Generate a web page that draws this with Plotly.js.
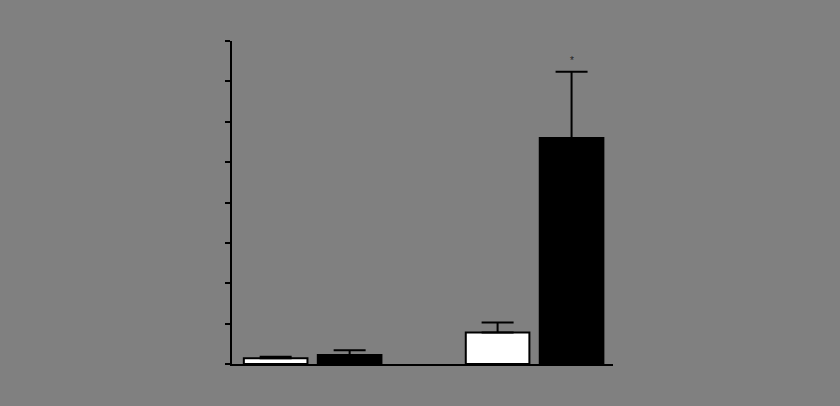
<!DOCTYPE html>
<html>
<head>
<meta charset="utf-8">
<script src="https://cdn.plot.ly/plotly-3.0.1.min.js"></script>
<style>
  html, body { margin: 0; padding: 0; background: #808080; }
  #fig { width: 840px; height: 406px; }
</style>
</head>
<body>
<div id="fig"></div>
<script>
// groups (no labels survive in the original)
var groups = ['A', 'B', 'C', 'D'];
var slots = ['A', 'B', 'gap', 'C', 'D'];   // empty slot between pairs
var means = [0.14, 0.22, 0.78, 5.6];
var sem = [0.04, 0.12, 0.25, 1.64];
var fills = ['white', 'black', 'white', 'black'];
var marks = ['', '', '', '*'];

var series = [{
  x: groups,
  y: means,
  type: 'bar',
  width: 0.86,
  marker: { color: fills, line: { color: 'black', width: 2 } },
  error_y: {
    type: 'data',
    symmetric: false,
    array: sem,
    arrayminus: [0, 0, 0, 0],
    color: 'black',
    thickness: 2,
    width: 16
  },
  hoverinfo: 'none'
}];

var notes = [];
for (var i = 0; i < groups.length; i++) {
  if (marks[i] === '') continue;
  notes.push({
    x: groups[i], y: means[i] + sem[i],
    text: marks[i], showarrow: false,
    yanchor: 'bottom', yshift: 4,
    font: { family: 'Liberation Sans, Arial', size: 10, color: '#222' }
  });
}

var layout = {
  width: 840, height: 406,
  margin: { l: 232, r: 227, t: 41, b: 42 },
  paper_bgcolor: '#808080',
  plot_bgcolor: 'rgba(0,0,0,0)',
  showlegend: false,
  xaxis: {
    type: 'category',
    categoryorder: 'array',
    categoryarray: slots,
    range: [-0.59, 4.56],
    showline: true, linecolor: 'black', linewidth: 2,
    showgrid: false, zeroline: false,
    ticks: '', showticklabels: false
  },
  yaxis: {
    range: [0, 8],
    dtick: 1,
    showline: true, linecolor: 'black', linewidth: 2,
    showgrid: false, zeroline: false,
    ticks: 'outside', ticklen: 5, tickwidth: 2, tickcolor: 'black',
    showticklabels: false
  },
  annotations: notes
};

Plotly.newPlot('fig', series, layout, { staticPlot: true });
</script>
</body>
</html>
